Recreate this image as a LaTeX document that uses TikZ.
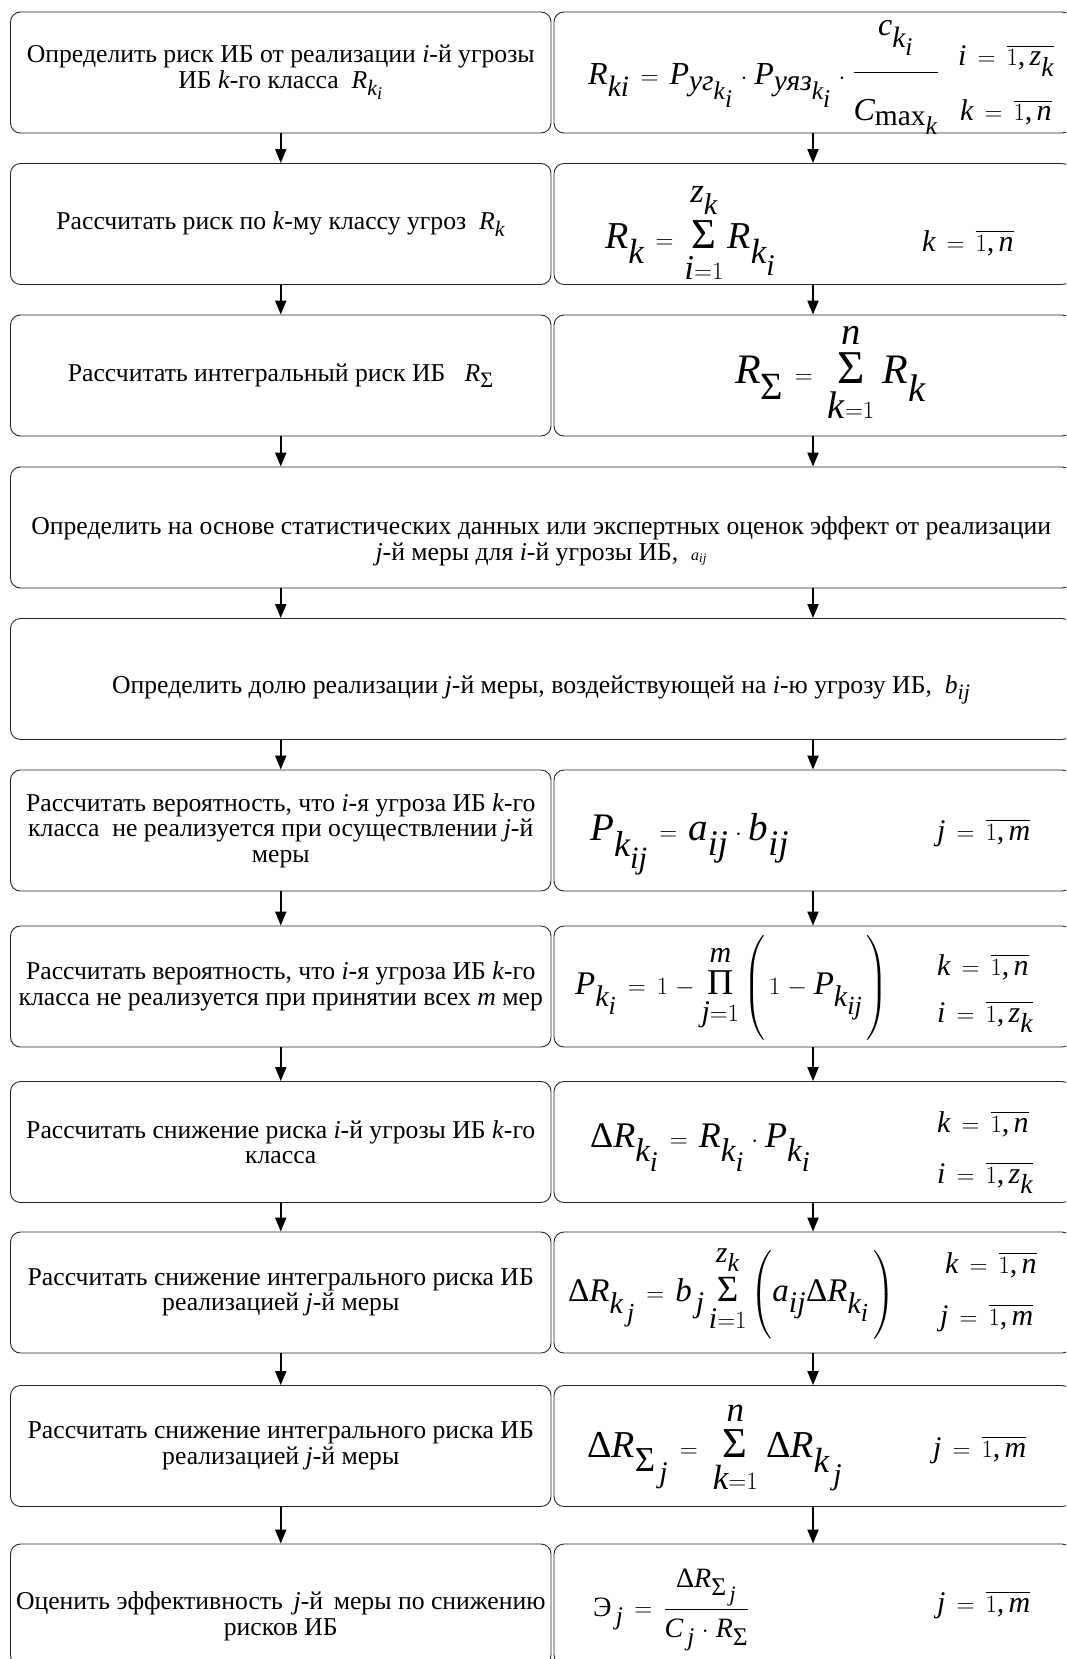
\documentclass[tikz,border=0pt]{standalone}
\usepackage{amsmath}
\usepackage{graphicx}
\usepackage{fontspec}
\setmainfont{Liberation Serif}
\newfontfamily\tnr{Liberation Serif}[NFSSFamily=tnr]
% Latin letters in formulas from Liberation Serif Italic, digits and comma upright
\DeclareSymbolFont{tnrit}{TU}{tnr}{m}{it}
\DeclareSymbolFont{tnrup}{TU}{tnr}{m}{n}
\makeatletter
\count@=`A
\loop
  \Umathcode\count@="0 \symtnrit \count@
\ifnum\count@<`Z \advance\count@\@ne\repeat
\count@=`a
\loop
  \Umathcode\count@="0 \symtnrit \count@
\ifnum\count@<`z \advance\count@\@ne\repeat
\count@=`0
\loop
  \Umathcode\count@="0 \symtnrup \count@
\ifnum\count@<`9 \advance\count@\@ne\repeat
\Umathcode`,="6 \symtnrup `,
\Umathcode`=="3 \symtnrup `=
\makeatother
% large sub- and superscripts
\DeclareMathSizes{16}{16}{13}{11}
\DeclareMathSizes{25.7}{25.7}{22}{18}
\DeclareMathSizes{28}{28}{25.5}{22}
\DeclareMathSizes{30}{30}{27.5}{24}
\DeclareMathSizes{32}{32}{29.5}{25.5}
\DeclareMathSizes{33}{33}{30}{26}
\DeclareMathSizes{36}{36}{33}{28.5}
\DeclareMathSizes{38}{38}{35}{30}
\DeclareMathSizes{39}{39}{36}{31}
\DeclareMathSizes{42}{42}{38.5}{33}
\thickmuskip=8mu plus 2mu
\medmuskip=5mu plus 2mu
\usetikzlibrary{arrows.meta}

\newcommand\cyi[1]{\text{\itshape #1}}
\newcommand\SumOp{\mathop{\text{\raisebox{0pt}[0.8em][0.1em]{\scalebox{1.12}{Σ}}}}\limits}
\newcommand\ProdOp{\mathop{\text{\raisebox{0pt}[0.8em][0.1em]{\scalebox{1.1}{Π}}}}\limits}
\newcommand\Sig{\text{Σ}}
\newcommand\Dl{\text{Δ}}
\newcommand\fs[1]{\fontsize{#1}{#1}\selectfont}

\tikzset{
  box/.style={draw=black!85, line width=0.9pt, rounded corners=10pt, fill=white},
  lbox/.style={box, minimum width=540.5pt, minimum height=121pt, align=center,
    inner sep=0pt, font=\fontsize{25.7}{25.5}\selectfont},
  rbox/.style={box, minimum width=518pt, minimum height=121pt},
  wbox/.style={box, minimum width=1061.5pt, minimum height=121pt},
  btext/.style={inner sep=0pt, align=center, font=\fontsize{25.7}{26}\selectfont},
  flow/.style={line width=2pt, -{Triangle[length=14pt, width=11pt]}},
  fml/.style={inner sep=0pt, anchor=base west},
  cond/.style={fml, font=\fs{30}},
}

\begin{document}
\begin{tikzpicture}[x=1pt, y=-1pt]
\fill[white] (0,0) rectangle (1066,1659);
\useasboundingbox (0,0) rectangle (1066,1659);
\clip (0,0) rectangle (1066,1659);

% left column steps and right column formula frames
\node[lbox] (L1) at (280.75,72.5) {Определить риск ИБ от реализации \textit{i}-й угрозы\\ИБ \textit{k}-го класса \ $R_{k_i}$};
\node[rbox] (R1) at (813,72.5) {};
\node[lbox] (L2) at (280.75,224) {Рассчитать риск по \textit{k}-му классу угроз \ $R_k$};
\node[rbox] (R2) at (813,224) {};
\node[lbox] (L3) at (280.75,375.5) {Рассчитать интегральный риск ИБ \ \ $R_{\Sig}$};
\node[rbox] (R3) at (813,375.5) {};
\node[wbox] (W4) at (541.25,527.5) {};
\node[btext] (T4) at (541.25,541) {Определить на основе статистических данных или экспертных оценок эффект от реализации\\\textit{j}-й меры для \textit{i}-й угрозы ИБ, \ {\fs{16}$a_{ij}$}};
\node[wbox] (W5) at (541.25,679) {};
\node[btext] (T5) at (541.25,690) {Определить долю реализации \textit{j}-й меры, воздействующей на \textit{i}-ю угрозу ИБ, \ $b_{ij}$};
\node[lbox] (L6) at (280.75,830.5) {Рассчитать вероятность, что \textit{i}-я угроза ИБ \textit{k}-го\\класса \ не реализуется при осуществлении \textit{j}-й\\меры};
\node[rbox] (R6) at (813,830.5) {};
\node[lbox] (L7) at (280.75,986.5) {Рассчитать вероятность, что \textit{i}-я угроза ИБ \textit{k}-го\\класса не реализуется при принятии всех \textit{m} мер};
\node[rbox] (R7) at (813,986.5) {};
\node[lbox] (L8) at (280.75,1142) {Рассчитать снижение риска \textit{i}-й угрозы ИБ \textit{k}-го\\класса};
\node[rbox] (R8) at (813,1142) {};
\node[lbox] (L9) at (280.75,1292.5) {Рассчитать снижение интегрального риска ИБ\\реализацией \textit{j}-й меры};
\node[rbox] (R9) at (813,1292.5) {};
\node[lbox] (L10) at (280.75,1446) {Рассчитать снижение интегрального риска ИБ\\реализацией \textit{j}-й меры};
\node[rbox] (R10) at (813,1446) {};
\node[lbox] (L11) at (280.75,1604.5) {};
\node[btext] (T11) at (280.75,1616) {Оценить эффективность \,\textit{j}-й \,меры по снижению\\рисков ИБ};
\node[rbox] (R11) at (813,1604.5) {};

% formulas and index ranges
\node[fml, font=\fs{32}] (F1) at (588,85) {$R_{ki}=P_{\cyi{уг}_{k_i}}\cdot P_{\cyi{уяз}_{k_i}}\cdot\raisebox{6pt}{$\dfrac{c_{k_i}\rule[-34pt]{0pt}{0pt}}{\rule{0pt}{44pt}C_{\text{\upshape max}_k}}$}$};
\node[cond] (C1a) at (958,66) {$i=\overline{1,z_k}$};
\node[cond] (C1b) at (960,121) {$k=\overline{1,n}$};

\node[fml, font=\fs{38}] (F2) at (605,248) {$R_k=\SumOp_{i=1}^{z_k}R_{k_i}$};
\node[cond] (C2) at (922,251) {$k=\overline{1,n}$};

\node[fml, font=\fs{42}] (F3) at (735,383) {$R_{\Sig}=\,\SumOp_{k=1}^{n}\,R_k$};

\node[fml, font=\fs{39}] (F6) at (590,840) {$P_{k_{ij}}=a_{ij}\cdot b_{ij}$};
\node[cond] (C6) at (937,840) {$j=\overline{1,m}$};

\node[fml, font=\fs{33}] (F7) at (575,994) {$P_{k_i}=1-\ProdOp_{j=1}^{m}\left(\rule[-1.45em]{0pt}{3.0em}\,1-P_{k_{ij}}\,\right)$};
\node[cond] (C7a) at (937,975) {$k=\overline{1,n}$};
\node[cond] (C7b) at (937,1022) {$i=\overline{1,z_k}$};

\node[fml, font=\fs{36}] (F8) at (590,1147) {$\Dl R_{k_i}=R_{k_i}\cdot P_{k_i}$};
\node[cond] (C8a) at (937,1132) {$k=\overline{1,n}$};
\node[cond] (C8b) at (937,1183) {$i=\overline{1,z_k}$};

\node[fml, font=\fs{33}] (F9) at (568,1301) {$\Dl R_{k_{\,j}}=b_{\,j}\SumOp_{i=1}^{z_k}\left(\rule[-1.1em]{0pt}{2.6em}a_{ij}\Dl R_{k_i}\,\right)$};
\node[cond] (C9a) at (945,1273) {$k=\overline{1,n}$};
\node[cond] (C9b) at (940,1325) {$j=\overline{1,m}$};

\node[fml, font=\fs{38}] (F10) at (587,1457) {$\Dl R_{\Sig_{\,j}}=\,\SumOp_{k=1}^{n}\,\Dl R_{k_{\,j}}$};
\node[cond] (C10) at (933,1457) {$j=\overline{1,m}$};

\node[fml, font=\fs{28}] (F11) at (593,1616) {$\text{Э}_{\,j}=\dfrac{\Dl R_{\Sig_{\,j}}\rule[-5pt]{0pt}{0pt}}{\rule{0pt}{24pt}C_{\,j}\cdot R_{\Sig}}$};
\node[cond] (C11) at (937,1612) {$j=\overline{1,m}$};

% connectors
\foreach \a/\b in {L1/L2,L2/L3,R1/R2,R2/R3,L6/L7,L7/L8,L8/L9,L9/L10,L10/L11,R6/R7,R7/R8,R8/R9,R9/R10,R10/R11}
  \draw[flow] (\a.south) -- (\b.north);
\draw[flow] (L3.south) -- (L3.south |- W4.north);
\draw[flow] (R3.south) -- (R3.south |- W4.north);
\draw[flow] (L3.south |- W4.south) -- (L3.south |- W5.north);
\draw[flow] (R3.south |- W4.south) -- (R3.south |- W5.north);
\draw[flow] (L6.north |- W5.south) -- (L6.north);
\draw[flow] (R6.north |- W5.south) -- (R6.north);
\end{tikzpicture}
\end{document}
